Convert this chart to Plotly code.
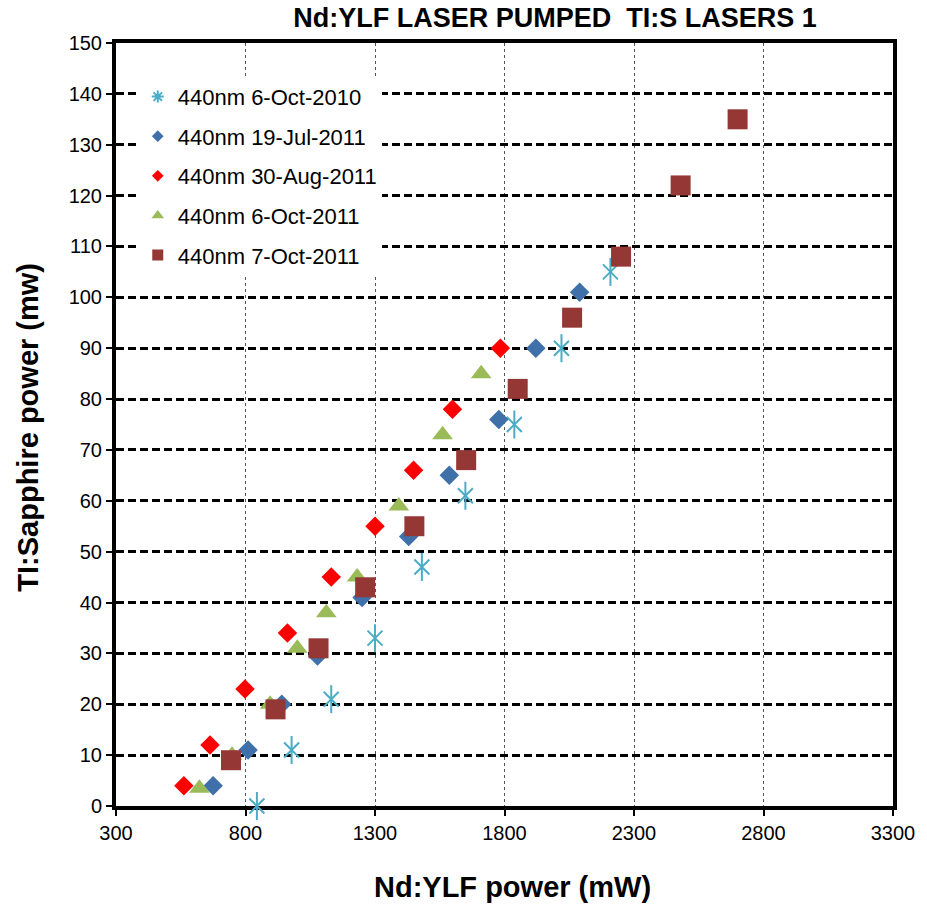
import plotly.graph_objects as go

# ---- data ----
names = ["440nm 6-Oct-2010", "440nm 19-Jul-2011", "440nm 30-Aug-2011",
         "440nm 6-Oct-2011", "440nm 7-Oct-2011"]

x_oct2010 = [844, 978, 1131, 1300, 1481, 1649, 1838, 2020, 2209]
y_oct2010 = [0, 11, 21, 33, 47, 61, 75, 90, 105]

x_jul2011 = [675, 810, 940, 1078, 1250, 1430, 1587, 1778, 1921, 2090]
y_jul2011 = [4, 11, 20, 29.5, 41, 53, 65, 76, 90, 101]

x_aug2011 = [562, 663, 798, 962, 1131, 1300, 1449, 1599, 1784]
y_aug2011 = [4, 12, 23, 34, 45, 55, 66, 78, 90]

x_oct2011 = [622, 748, 895, 1000, 1112, 1231, 1392, 1561, 1710]
y_oct2011 = [3.5, 10, 20, 31, 38, 45, 59, 73, 85]

x_oct7 = [744, 916, 1082, 1262, 1452, 1652, 1851, 2061, 2250, 2480, 2700]
y_oct7 = [9, 19, 31, 43, 55, 68, 82, 96, 108, 122, 135]

x_ticks = [300, 800, 1300, 1800, 2300, 2800, 3300]
y_ticks = list(range(0, 151, 10))

FONT = "Liberation Sans, Arial, sans-serif"
C_CYAN = "#4BACC6"
C_BLUE = "#4070AA"
C_RED = "#FF0000"
C_GREEN = "#9BBB59"
C_BROWN = "#953735"

fig = go.Figure()

# cyan star marker: X + vertical bar
fig.add_trace(go.Scatter(x=x_oct2010, y=y_oct2010, mode="markers", showlegend=False,
                         cliponaxis=False,
                         marker=dict(symbol="x-thin-open", size=15, color=C_CYAN,
                                     line=dict(color=C_CYAN, width=2))))
fig.add_trace(go.Scatter(x=x_oct2010, y=y_oct2010, mode="markers", showlegend=False,
                         cliponaxis=False,
                         marker=dict(symbol="line-ns-open", size=20, color=C_CYAN,
                                     line=dict(color=C_CYAN, width=2))))
fig.add_trace(go.Scatter(x=x_jul2011, y=y_jul2011, mode="markers", showlegend=False,
                         marker=dict(symbol="diamond", size=15, color=C_BLUE,
                                     line=dict(width=0))))
fig.add_trace(go.Scatter(x=x_aug2011, y=y_aug2011, mode="markers", showlegend=False,
                         marker=dict(symbol="diamond", size=15, color=C_RED,
                                     line=dict(width=0))))
fig.add_trace(go.Scatter(x=x_oct2011, y=y_oct2011, mode="markers", showlegend=False,
                         marker=dict(symbol="triangle-up", size=18, color=C_GREEN,
                                     line=dict(width=0))))
fig.add_trace(go.Scatter(x=x_oct7, y=y_oct7, mode="markers", showlegend=False,
                         marker=dict(symbol="square", size=20, color=C_BROWN,
                                     line=dict(width=0))))

# legend entries (smaller symbols, as in the original legend)
legend_specs = [
    (names[0], dict(symbol="asterisk-open", size=10, color=C_CYAN,
                    line=dict(color=C_CYAN, width=2))),
    (names[1], dict(symbol="diamond", size=9, color=C_BLUE, line=dict(width=0))),
    (names[2], dict(symbol="diamond", size=9, color=C_RED, line=dict(width=0))),
    (names[3], dict(symbol="triangle-up", size=11, color=C_GREEN, line=dict(width=0))),
    (names[4], dict(symbol="square", size=11, color=C_BROWN, line=dict(width=0))),
]
for i, (nm, mk) in enumerate(legend_specs):
    fig.add_trace(go.Scatter(x=[None], y=[None], mode="markers", name=nm,
                             legendgroup=f"g{i}", marker=mk))

fig.update_layout(
    width=927, height=907,
    margin=dict(l=116, r=28, t=43, b=101),
    paper_bgcolor="white", plot_bgcolor="white",
    font=dict(family=FONT, color="black"),
    title=dict(text="<b>Nd:YLF LASER PUMPED  TI:S LASERS 1</b>",
               font=dict(size=27, family=FONT, color="black"),
               x=555 / 927, xref="container", xanchor="center",
               y=1 - 18 / 907, yref="container", yanchor="middle"),
    legend=dict(x=0.028, y=0.957, xanchor="left", yanchor="top",
                bgcolor="white", borderwidth=0,
                font=dict(size=22, family=FONT, color="black"),
                traceorder="grouped", tracegroupgap=8),
    annotations=[
        dict(text="<b>Nd:YLF power (mW)</b>", xref="paper", yref="paper",
             x=(516 - 116) / 783, y=(806 - 887) / 763, xanchor="center", yanchor="middle",
             showarrow=False, font=dict(size=29, family=FONT, color="black")),
        dict(text="<b>TI:Sapphire power (mw)</b>", xref="paper", yref="paper",
             x=(27 - 116) / 783, y=(806 - 427) / 763, xanchor="center", yanchor="middle",
             textangle=-90, showarrow=False,
             font=dict(size=29, family=FONT, color="black")),
    ],
)

fig.update_xaxes(range=[300, 3300], tickvals=x_ticks, ticktext=[str(v) for v in x_ticks],
                 showgrid=True, gridcolor="#555555", gridwidth=1, griddash="dot",
                 showline=True, linecolor="black", linewidth=4, mirror=True,
                 ticks="outside", ticklen=6, tickwidth=2, tickcolor="black",
                 tickfont=dict(size=20, family=FONT, color="black"),
                 zeroline=False, layer="below traces")
fig.update_yaxes(range=[0, 150], tickvals=y_ticks, ticktext=[str(v) for v in y_ticks],
                 showgrid=True, gridcolor="black", gridwidth=2.5, griddash="8px,4px",
                 showline=True, linecolor="black", linewidth=4, mirror=True,
                 ticks="outside", ticklen=6, tickwidth=2, tickcolor="black",
                 tickfont=dict(size=20, family=FONT, color="black"),
                 zeroline=False, layer="below traces")

fig.write_html("out.html", config={"displayModeBar": False},
               post_script="document.body.style.margin='0';document.body.style.padding='0';")
